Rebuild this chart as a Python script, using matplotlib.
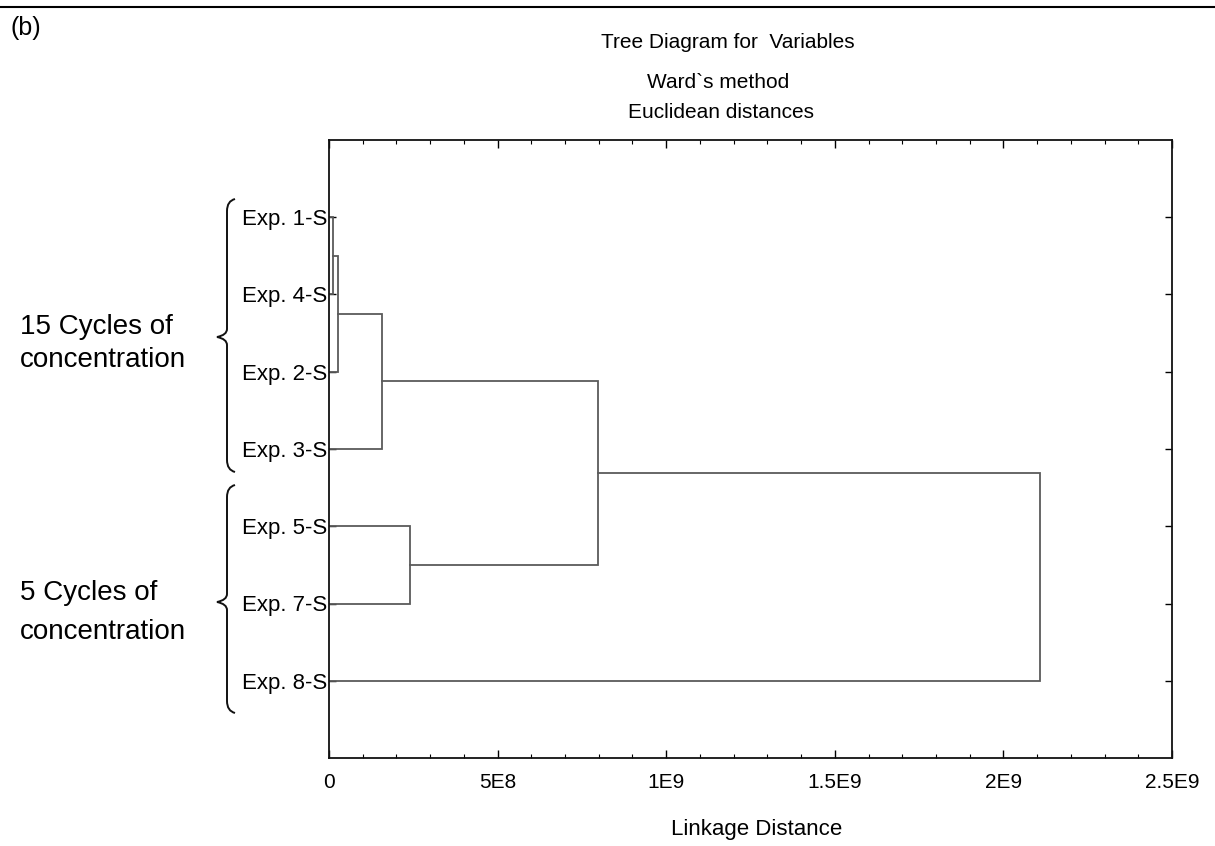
import matplotlib
matplotlib.use('Agg')
import matplotlib.pyplot as plt
from matplotlib.path import Path
from matplotlib.patches import PathPatch
from matplotlib.ticker import MultipleLocator, FixedLocator, FixedFormatter

plt.rcParams['font.family'] = ['Liberation Sans', 'DejaVu Sans']

# Feuilles dans l'ordre du dendrogramme (de haut en bas)
leaves = ['Exp. 1-S', 'Exp. 4-S', 'Exp. 2-S', 'Exp. 3-S', 'Exp. 5-S', 'Exp. 7-S', 'Exp. 8-S']

# Fusions : (noeud a, noeud b, distance de liaison) ; les noeuds >= 7 sont les clusters créés
merge_a = [0, 7, 8, 4, 9, 11]
merge_b = [1, 2, 3, 5, 10, 6]
merge_dist = [1.1e7, 2.6e7, 1.56e8, 2.4e8, 7.98e8, 2.11e9]

xtick_values = [0, 5e8, 1e9, 1.5e9, 2e9, 2.5e9]
xtick_labels = ['0', '5E8', '1E9', '1.5E9', '2E9', '2.5E9']

W, H = 1215, 846
fig = plt.figure(figsize=(W / 100, H / 100), dpi=100)


def px(x, y):
    # pixel (depuis le haut) -> fraction de figure
    return x / W, 1 - y / H


ax = fig.add_axes([329 / W, 1 - 758 / H, (1172 - 329) / W, (758 - 140) / H])

# positions et hauteurs des noeuds
pos = {i: i + 1 for i in range(len(leaves))}
height = {i: 0.0 for i in range(len(leaves))}
line_color = '#5a5a5a'
for k, (a, b, d) in enumerate(zip(merge_a, merge_b, merge_dist)):
    node = len(leaves) + k
    ax.plot([height[a], d, d, height[b]], [pos[a], pos[a], pos[b], pos[b]],
            color=line_color, lw=1.3, solid_joinstyle='miter')
    pos[node] = (pos[a] + pos[b]) / 2
    height[node] = d

ax.set_xlim(0, 2.5e9)
ax.set_ylim(len(leaves) + 1, 0)

ax.xaxis.set_major_locator(FixedLocator(xtick_values))
ax.xaxis.set_major_formatter(FixedFormatter(xtick_labels))
ax.xaxis.set_minor_locator(MultipleLocator(1e8))
ax.set_yticks(range(1, len(leaves) + 1))
ax.set_yticklabels(leaves)

ax.tick_params(axis='both', which='both', direction='in', top=True, right=True)
ax.tick_params(axis='x', which='major', length=6, width=1, labelsize=15, pad=11)
ax.tick_params(axis='x', which='minor', length=3, width=0.8)
ax.tick_params(axis='y', which='major', length=5, width=1, labelsize=16, pad=1)
for s in ax.spines.values():
    s.set_linewidth(1.3)
    s.set_color('#111111')

# Titres
fig.text(*px(728, 43), 'Tree Diagram for  Variables', ha='center', va='center', fontsize=15)
fig.text(*px(718, 82), 'Ward`s method', ha='center', va='center', fontsize=15)
fig.text(*px(721, 112), 'Euclidean distances', ha='center', va='center', fontsize=15)
fig.text(*px(757, 829), 'Linkage Distance', ha='center', va='center', fontsize=16)
fig.text(*px(10, 28), '(b)', ha='left', va='center', fontsize=18)

# Ligne en haut de la figure
fig.add_artist(plt.Line2D([0, 1], [1 - 7 / H, 1 - 7 / H], color='black', lw=1.5,
                          transform=fig.transFigure))

# Groupes à gauche
fig.text(*px(20, 327), '15 Cycles of', ha='left', va='center', fontsize=20)
fig.text(*px(20, 360), 'concentration', ha='left', va='center', fontsize=20)
fig.text(*px(20, 593), '5 Cycles of', ha='left', va='center', fontsize=20)
fig.text(*px(20, 632), 'concentration', ha='left', va='center', fontsize=20)


def brace(y_top, y_tip, y_bot, x=227, x_tip=217, x_end=235):
    pts = [(x_end, y_top), (x, y_top + 2), (x, y_top + 12),
           (x, y_tip - 8),
           (x, y_tip - 2), (x_tip, y_tip),
           (x, y_tip + 2), (x, y_tip + 8),
           (x, y_bot - 12),
           (x, y_bot - 2), (x_end, y_bot)]
    codes = [Path.MOVETO, Path.CURVE3, Path.CURVE3,
             Path.LINETO,
             Path.CURVE3, Path.CURVE3,
             Path.CURVE3, Path.CURVE3,
             Path.LINETO,
             Path.CURVE3, Path.CURVE3]
    verts = [px(a, b) for a, b in pts]
    fig.add_artist(PathPatch(Path(verts, codes), fill=False, lw=1.4, color='#111111',
                             transform=fig.transFigure))


brace(199, 337, 472)
brace(485, 602, 713)

fig.savefig('out.png', dpi=100)
